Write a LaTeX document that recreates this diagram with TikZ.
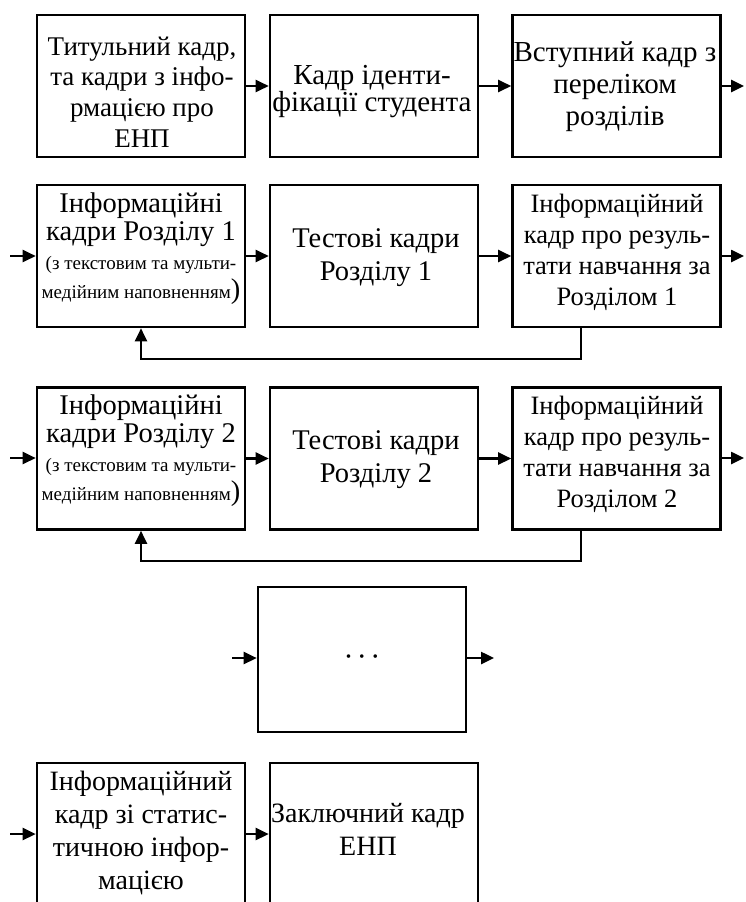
\documentclass[tikz,border=0pt]{standalone}
\usepackage{fontspec}
\setmainfont{Liberation Serif}
\usetikzlibrary{arrows.meta}
% #1 font size, #2 baselineskip, #3 lines separated by \cr
\newcommand{\boxtext}[3]{\vtop{\fontsize{#1}{#2}\selectfont\lineskiplimit=-100pt\halign{\hfil##\hfil\cr#3\crcr}}}
\newcommand{\smallfnt}{\fontsize{19pt}{19pt}\selectfont}
\tikzset{
  frame/.style={draw, line width=2.6pt, minimum width=208pt, minimum height=142pt, inner sep=0pt},
  txt/.style={inner sep=0pt, anchor=base},
  arr/.style={line width=2.5pt, -{Triangle[length=13pt,width=12pt]}},
}
\begin{document}
\begin{tikzpicture}[x=1pt,y=-1pt]
\useasboundingbox (0,0) rectangle (745,902);
% row 1
\node[frame] (b1) at (141,86) {};
\node[frame] (b2) at (374,86) {};
\node[frame] (b3) at (616.5,86) {};
\node[txt] (t1) at (142,55) {\boxtext{27pt}{30.7pt}{Титульний кадр,\cr та кадри з інфо-\cr рмацією про\cr ЕНП}};
\node[txt] (t2) at (372,84) {\boxtext{29pt}{27pt}{Кадр іденти-\cr фікації студента}};
\node[txt] (t3) at (615,61) {\boxtext{29pt}{32pt}{Вступний кадр з\cr переліком\cr розділів}};
\coordinate (o1) at (744,86);
\draw[arr] (b1) -- (b2);
\draw[arr] (b2) -- (b3);
\draw[arr] (b3) -- (o1);
% row 2
\node[frame] (b4) at (141,256) {};
\node[frame] (b5) at (374,256) {};
\node[frame] (b6) at (616.5,256) {};
\node[txt] (t4) at (141,212) {\boxtext{28.5pt}{28.7pt}{Інформаційні\cr кадри Розділу 1\cr {\smallfnt (з текстовим та мульти-}\cr {\smallfnt медійним наповненням})}};
\node[txt] (t5) at (376,247) {\boxtext{28.5pt}{33pt}{Тестові кадри\cr Розділу 1}};
\node[txt] (t6) at (617,212) {\boxtext{26.5pt}{31pt}{Інформаційний\cr кадр про резуль-\cr тати навчання за\cr Розділом 1}};
\coordinate (i2) at (10,256);
\coordinate (o2) at (744,256);
\coordinate (f2) at (581,359);
\draw[arr] (i2) -- (b4);
\draw[arr] (b4) -- (b5);
\draw[arr] (b5) -- (b6);
\draw[arr] (b6) -- (o2);
\draw[arr] (b6.south -| f2) -- (f2) -| (b4.south);
% row 3
\node[frame] (b7) at (141,458.5) {};
\node[frame] (b8) at (374,458.5) {};
\node[frame] (b9) at (616.5,458.5) {};
\node[txt] (t7) at (141,414) {\boxtext{28.5pt}{28.7pt}{Інформаційні\cr кадри Розділу 2\cr {\smallfnt (з текстовим та мульти-}\cr {\smallfnt медійним наповненням})}};
\node[txt] (t8) at (376,449) {\boxtext{28.5pt}{33pt}{Тестові кадри\cr Розділу 2}};
\node[txt] (t9) at (617,414) {\boxtext{26.5pt}{31pt}{Інформаційний\cr кадр про резуль-\cr тати навчання за\cr Розділом 2}};
\coordinate (i3) at (10,458);
\coordinate (o3) at (744,458);
\coordinate (f3) at (581,561);
\draw[arr] (i3) -- (b7.west |- i3);
\draw[arr] (b7) -- (b8);
\draw[arr] (b8) -- (b9);
\draw[arr] (b9.east |- o3) -- (o3);
\draw[arr] (b9.south -| f3) -- (f3) -| (b7.south);
% row 4
\node[frame, minimum height=145pt] (b10) at (362,659.5) {};
\node[inner sep=0pt, font=\fontsize{30pt}{30pt}\selectfont] (dots) at (362,661) {·\hspace{3.5pt}·\hspace{3.5pt}·};
\coordinate (i4) at (232,658);
\coordinate (o4) at (494,658);
\draw[arr] (i4) -- (b10.west |- i4);
\draw[arr] (b10.east |- o4) -- (o4);
% row 5
\node[frame] (b11) at (141,834) {};
\node[frame] (b12) at (374,834) {};
\node[txt] (t11) at (141,790) {\boxtext{28pt}{33.3pt}{Інформаційний\cr кадр зі статис-\cr тичною інфор-\cr мацією}};
\node[txt] (t12) at (368,822) {\boxtext{28pt}{33pt}{Заключний кадр\cr ЕНП}};
\coordinate (i5) at (10,834);
\draw[arr] (i5) -- (b11);
\draw[arr] (b11) -- (b12);
\end{tikzpicture}
\end{document}
